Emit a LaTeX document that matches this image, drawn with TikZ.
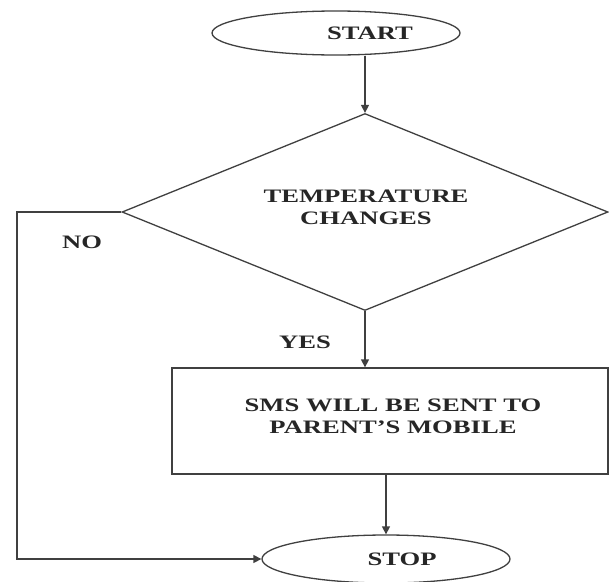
\documentclass[tikz,border=0pt]{standalone}
\usepackage{fontspec}
\setmainfont{Liberation Serif}[FakeStretch=1.4]
\usetikzlibrary{shapes.geometric,arrows.meta}
\tikzset{
  ln/.style={draw=black!75,line width=1.3pt},
  arr/.style={ln,-{Triangle[length=8pt,width=8pt]}},
  txt/.style={font=\fontsize{19}{22}\selectfont\bfseries,text=black!85,align=center,inner sep=0pt},
  term/.style={ln,ellipse,minimum width=248pt,minimum height=44pt,inner sep=0pt},
}
\begin{document}
\begin{tikzpicture}[x=1pt,y=-1pt]
\useasboundingbox[fill=white] (0,0) rectangle (609,581);
\node[term] (start) at (336,33) {};
\node[txt] (starttxt) at (370,33) {START};
\node[ln,diamond,inner sep=0pt,minimum width=486pt,minimum height=197pt] (dia) at (365,212) {};
\node[txt] (diatxt) at (366,207) {TEMPERATURE\\CHANGES};
\node[ln,rectangle,minimum width=436pt,minimum height=106pt,inner sep=0pt] (sms) at (390,421) {};
\node[txt] (smstxt) at (393,416) {SMS WILL BE SENT TO\\PARENT’S MOBILE};
\node[term,minimum height=48pt] (stop) at (386,559) {};
\node[txt] (stoptxt) at (402,559) {STOP};
\node[txt] (no) at (82,242) {NO};
\node[txt] (yes) at (305,342) {YES};
\coordinate (nocorner) at (17,212);
\draw[arr] (dia.north |- start.south) -- (dia.north);
\draw[arr] (dia.south) -- (dia.south |- sms.north);
\draw[arr] (sms.south -| stop.north) -- (stop.north);
\draw[arr] (dia.west) -- (nocorner) |- (stop.west);
\end{tikzpicture}
\end{document}
